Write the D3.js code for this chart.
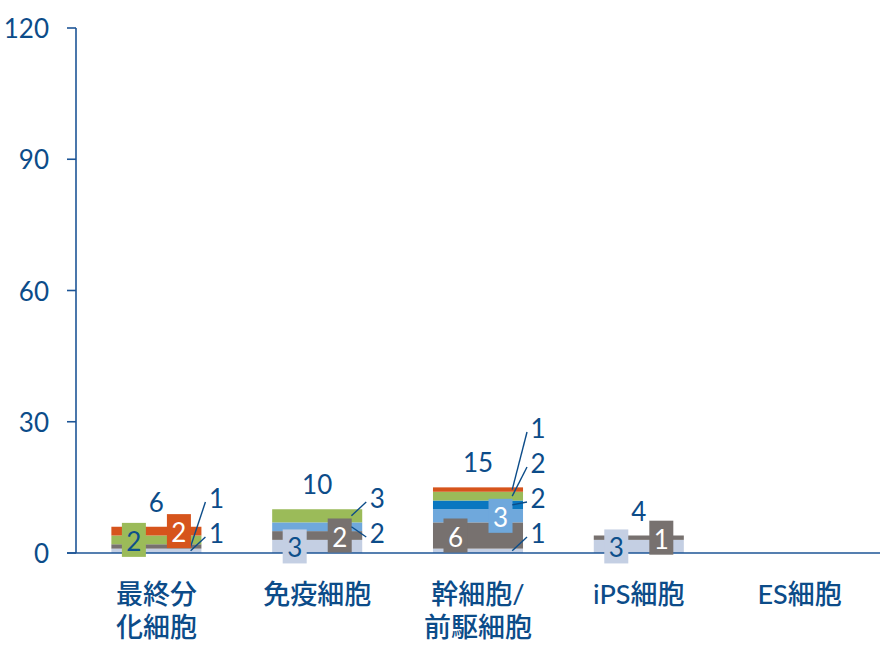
<!DOCTYPE html>
<html>
<head>
<meta charset="utf-8">
<script src="https://cdn.jsdelivr.net/npm/d3@7/dist/d3.min.js"></script>
<style>
  html, body { margin: 0; padding: 0; background: #ffffff; }
  svg { display: block; }
  text { font-family: "Lato", "Noto Sans CJK JP", sans-serif; }
</style>
</head>
<body>
<svg id="chart" width="885" height="650"></svg>
<script>
// Cell types on the x axis (line breaks split the label over two lines)
const categories = ["最終分\n化細胞", "免疫細胞", "幹細胞/\n前駆細胞", "iPS細胞", "ES細胞"];

// Stacked series, bottom to top
const seriesA = [1, 3, 1, 3, 0];
const seriesB = [1, 2, 6, 1, 0];
const seriesC = [0, 2, 3, 0, 0];
const seriesD = [0, 0, 2, 0, 0];
const seriesE = [2, 3, 2, 0, 0];
const seriesF = [2, 0, 1, 0, 0];

const yTicks = [0, 30, 60, 90, 120];

// Appearance of each series: fill and colour of its in-bar label
const seriesKeys = ["A", "B", "C", "D", "E", "F"];
const seriesValues = [seriesA, seriesB, seriesC, seriesD, seriesE, seriesF];
const fills = ["#c4cfe3", "#77716f", "#6fa8dc", "#0a77c0", "#9bbb59", "#d6541c"];
const boxText = ["#0d4f8b", "#ffffff", "#ffffff", "#ffffff", "#0d4f8b", "#ffffff"];

// Where each value label sits: boxed inside the bar (left / right), otherwise a callout
const boxedLabels = {
  "0-4": "left", "0-5": "right",
  "1-0": "left", "1-1": "right",
  "2-1": "left", "2-2": "right",
  "3-0": "left", "3-1": "right"
};

const ink = "#0c4c89";
const axisColor = "#1d5596";

const svg = d3.select("#chart");
const x0 = 76, x1 = 880, yBase = 553, yTop = 28;

const x = d3.scaleBand()
  .domain(d3.range(categories.length))
  .range([x0, x1])
  .paddingInner(0.44)
  .paddingOuter(0.22);

const y = d3.scaleLinear().domain([0, 120]).range([yBase, yTop]);

// Build stack rows
const rows = categories.map((c, i) => {
  const r = { idx: i };
  seriesKeys.forEach((k, s) => { r[k] = seriesValues[s][i]; });
  return r;
});
const stacked = d3.stack().keys(seriesKeys)(rows);

// Bars
const gBars = svg.append("g");
stacked.forEach((layer, s) => {
  gBars.selectAll(null)
    .data(layer.filter(d => d[1] > d[0]))
    .join("rect")
    .attr("x", d => x(d.data.idx))
    .attr("width", x.bandwidth())
    .attr("y", d => y(d[1]))
    .attr("height", d => y(d[0]) - y(d[1]))
    .attr("fill", fills[s]);
});

// Axes
const gAxis = svg.append("g");
gAxis.append("line")
  .attr("x1", x0).attr("x2", x0)
  .attr("y1", y(120)).attr("y2", yBase)
  .attr("stroke", axisColor).attr("stroke-width", 1.6);
gAxis.append("line")
  .attr("x1", 67).attr("x2", x1)
  .attr("y1", yBase).attr("y2", yBase)
  .attr("stroke", axisColor).attr("stroke-width", 1.6);
yTicks.forEach(t => {
  gAxis.append("line")
    .attr("x1", 67).attr("x2", x0)
    .attr("y1", y(t)).attr("y2", y(t))
    .attr("stroke", axisColor).attr("stroke-width", 1.6);
  gAxis.append("text")
    .attr("x", 49).attr("y", y(t))
    .attr("text-anchor", "end")
    .attr("dominant-baseline", "central")
    .attr("font-size", 26)
    .attr("fill", ink)
    .text(t);
});

// Category labels
categories.forEach((c, i) => {
  const t = svg.append("text")
    .attr("text-anchor", "middle")
    .attr("font-family", "'Noto Sans CJK JP', sans-serif")
    .attr("font-weight", 500)
    .attr("font-size", 27)
    .attr("fill", ink);
  c.split("\n").forEach((line, k) => {
    t.append("tspan")
      .attr("x", x(i) + x.bandwidth() / 2)
      .attr("y", 604 + k * 33)
      .text(line);
  });
});

// Value labels
const gLab = svg.append("g");
categories.forEach((c, i) => {
  const left = x(i), bw = x.bandwidth();
  let slot = 0;
  stacked.forEach((layer, s) => {
    const d = layer[i];
    const v = d[1] - d[0];
    if (v <= 0) return;
    const cy = y((d[0] + d[1]) / 2);
    const place = boxedLabels[i + "-" + s];
    if (place) {
      const cx = left + bw * (place === "left" ? 0.25 : 0.75);
      gLab.append("rect")
        .attr("x", cx - 12).attr("y", cy - 17)
        .attr("width", 24).attr("height", 34)
        .attr("fill", fills[s]);
      gLab.append("text")
        .attr("x", cx).attr("y", cy + 1)
        .attr("text-anchor", "middle")
        .attr("dominant-baseline", "central")
        .attr("font-size", 26)
        .attr("fill", boxText[s])
        .text(v);
    } else {
      const tx = left + bw + 15;
      const ty = yBase - 20 - slot * 35;
      gLab.append("line")
        .attr("x1", tx - 11).attr("y1", ty + 4)
        .attr("x2", left + bw * 0.88).attr("y2", cy)
        .attr("stroke", ink).attr("stroke-width", 1.4);
      gLab.append("text")
        .attr("x", tx).attr("y", ty)
        .attr("text-anchor", "middle")
        .attr("dominant-baseline", "central")
        .attr("font-size", 26)
        .attr("fill", ink)
        .text(v);
      slot++;
    }
  });
  // Total above the bar
  const total = d3.sum(seriesValues, sv => sv[i]);
  if (total > 0) {
    gLab.append("text")
      .attr("x", left + bw / 2)
      .attr("y", y(total) - 25)
      .attr("text-anchor", "middle")
      .attr("dominant-baseline", "central")
      .attr("font-size", 26)
      .attr("fill", ink)
      .text(total);
  }
});
</script>
</body>
</html>
